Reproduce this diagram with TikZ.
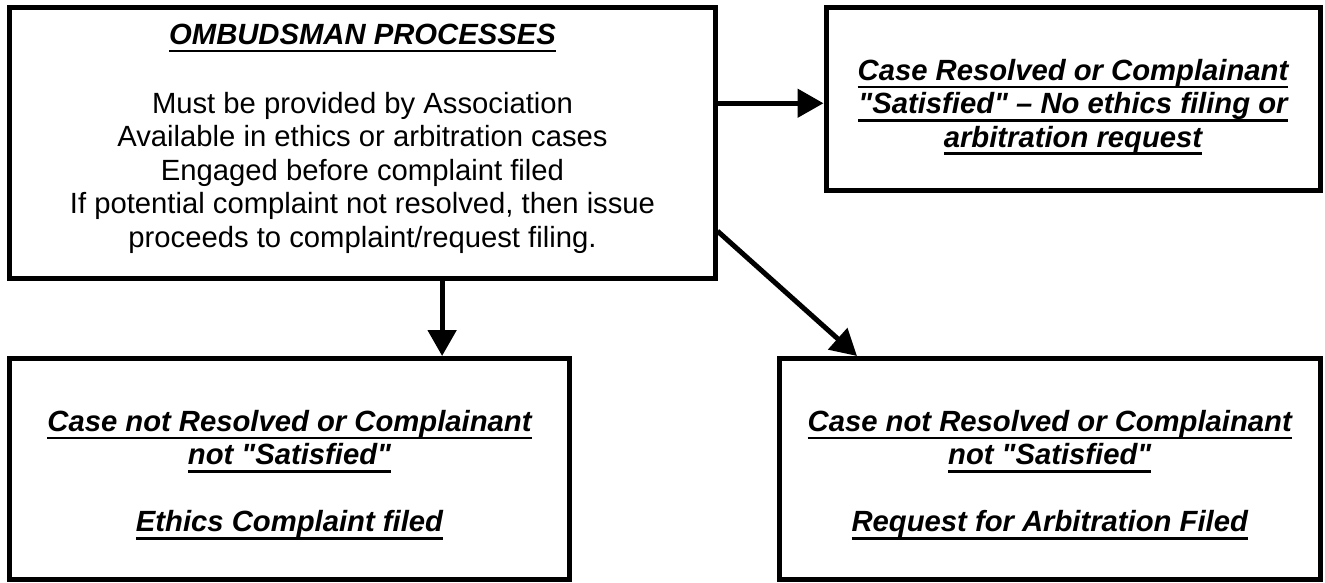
\documentclass[tikz,border=0pt]{standalone}
\usepackage{fontspec}
\setmainfont{Liberation Sans}
\usetikzlibrary{arrows.meta,positioning}

\newsavebox\ulbox
\newcommand{\ulin}[1]{\sbox\ulbox{#1}\rlap{\rule[-0.28em]{\wd\ulbox}{0.1em}}\usebox\ulbox}

\begin{document}
\begin{tikzpicture}[>={Triangle[length=0.65cm,width=0.7cm]},line width=0.125cm,
    main box/.style={draw,rectangle,inner sep=0pt,line width=0.125cm},
    main text/.style={inner sep=0pt,align=center,font=\fontsize{20.8pt}{23.8pt}\selectfont},
    case text/.style={main text,font=\fontsize{20.8pt}{23.8pt}\selectfont\bfseries\itshape}]

    \useasboundingbox (0,0) rectangle (33.125,-14.575);

    \node[main box, minimum width=17.625cm, minimum height=6.7875cm] (1) at (9.0625,-3.581) {};
    \node[main box, minimum width=12.35cm, minimum height=4.5875cm] (2) at (26.825,-2.481) {};
    \node[main box, minimum width=13.975cm, minimum height=5.5125cm] (3) at (7.2375,-11.719) {};
    \node[main box, minimum width=13.5125cm, minimum height=5.5125cm] (4) at (26.244,-11.719) {};

    \node[main text, below=0.41cm of 1.north] (t1) {{\bfseries\itshape\ulin{OMBUDSMAN PROCESSES}}\\[25.3pt]
        Must be provided by Association\\
        Available in ethics or arbitration cases\\
        Engaged before complaint filed\\
        If potential complaint not resolved, then issue\\
        proceeds to complaint/request filing.};
    \node[case text, below=1.29cm of 2.north] (t2) {\ulin{Case Resolved or Complainant}\\
        \ulin{\textquotedbl Satisfied\textquotedbl{} -- No ethics filing or}\\
        \ulin{arbitration request}};
    \node[case text, below=1.29cm of 3.north] (t3) {\ulin{Case not Resolved or Complainant}\\
        \ulin{not \textquotedbl Satisfied\textquotedbl}\\[24pt]
        \ulin{Ethics Complaint filed}};
    \node[case text, below=1.29cm of 4.north] (t4) {\ulin{Case not Resolved or Complainant}\\
        \ulin{not \textquotedbl Satisfied\textquotedbl}\\[24pt]
        \ulin{Request for Arbitration Filed}};

    \coordinate (h2) at ([yshift=-0.1cm]2.west);
    \coordinate (d1) at ([xshift=1.99cm]1.south);
    \coordinate (g1) at ([yshift=1.26cm]1.south east);
    \coordinate (g2) at ([xshift=2cm]4.north west);

    \draw[->] (1.east |- h2) to (h2);
    \draw[->] (d1) to (d1 |- 3.north);
    \draw[->] (g1) to (g2);

\end{tikzpicture}
\end{document}
